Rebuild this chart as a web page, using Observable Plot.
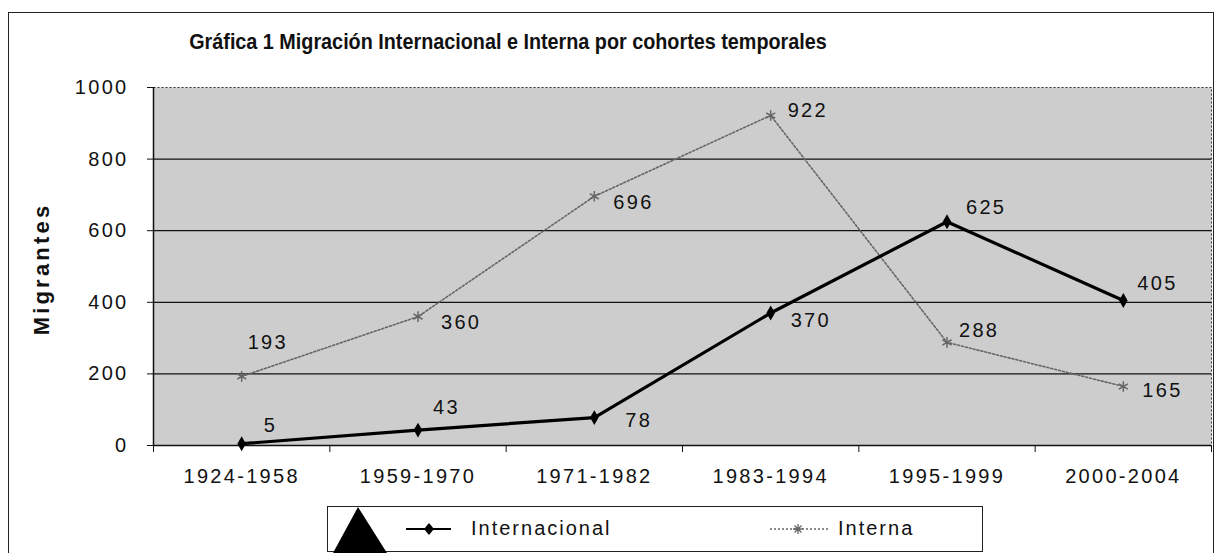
<!DOCTYPE html>
<html><head><meta charset="utf-8">
<script src="https://cdn.jsdelivr.net/npm/d3@7"></script>
<script src="https://cdn.jsdelivr.net/npm/@observablehq/plot@0.6"></script>
<style>
  body { margin:0; background:#fff; font-family:"Liberation Sans", Arial, sans-serif; }
  #wrap { position:relative; width:1218px; height:553px; overflow:hidden; }
  #frame { position:absolute; left:8px; top:12px; width:1206px; height:600px; border:1.5px solid #222; box-sizing:border-box; }
  #title { position:absolute; left:0; width:1016px; top:30px; text-align:center; font-weight:bold; font-size:19.8px; letter-spacing:0px; color:#111; transform:scaleY(1.12); }
  #ylab { position:absolute; left:42px; top:269px; transform:translate(-50%,-50%) rotate(-90deg); font-weight:bold; font-size:22px; letter-spacing:3.2px; color:#111; white-space:nowrap; }
  #plot { position:absolute; left:0; top:0; }
  #plot svg text { letter-spacing:2.3px; }
  #legend { position:absolute; left:327px; top:506px; width:656px; height:46px; border:1.5px solid #222; box-sizing:border-box; background:#fff; }
  .item { position:absolute; top:0; height:43px; display:flex; align-items:center; font-size:20px; letter-spacing:2px; color:#111; }
  #tri { position:absolute; left:0; top:0; }
</style></head>
<body>
<div id="wrap">
  <div id="frame"></div>
  <div id="plot"></div>
  <div id="title"></div>
  <div id="ylab"></div>
  <div id="legend"></div>
  <svg id="tri" width="1218" height="553"><polygon id="triPoly" fill="#000"></polygon></svg>
</div>
<script>
const categories = ["1924-1958","1959-1970","1971-1982","1983-1994","1995-1999","2000-2004"];
const internacional = [5, 43, 78, 370, 625, 405];
const interna = [193, 360, 696, 922, 288, 165];
const yTicks = [0, 200, 400, 600, 800, 1000];
const gridValues = [200, 400, 600, 800];
const seriesNames = ["Internacional", "Interna"];
const titleText = "Gráfica 1 Migración Internacional e Interna por cohortes temporales";
const yLabel = "Migrantes";

// label offsets (style)
const offInternacional = [[22,-18],[15,-23],[31,3],[20,8],[19,-14],[14,-17]];
const offInterna = [[6,-34],[23,6],[19,6],[17,-5],[12,-12],[19,4]];

const idx = categories.map((c,i)=>i);
const dInt = idx.map(i=>({i, v: internacional[i]}));
const dIna = idx.map(i=>({i, v: interna[i]}));
const bounds = [-0.5, ...idx.map(i=>i+0.5)];

const textMarks = [];
dInt.forEach((d,k)=>textMarks.push(Plot.text([d], {x:"i", y:"v", text:d=>String(d.v), textAnchor:"start", dx:offInternacional[k][0], dy:offInternacional[k][1], fontSize:20, fill:"#111"})));
dIna.forEach((d,k)=>textMarks.push(Plot.text([d], {x:"i", y:"v", text:d=>String(d.v), textAnchor:"start", dx:offInterna[k][0], dy:offInterna[k][1], fontSize:20, fill:"#111"})));

const chart = Plot.plot({
  width:1218, height:553,
  marginLeft:153, marginRight:7, marginTop:87, marginBottom:108,
  style:{fontFamily:"'Liberation Sans', Arial, sans-serif", fontSize:"20px", color:"#111", background:"transparent"},
  x:{type:"linear", domain:[-0.5, categories.length-0.5], label:null},
  y:{domain:[0,1000], label:null},
  marks:[
    Plot.frame({fill:"url(#dots)", stroke:null}),
    Plot.frame({stroke:"#333", strokeDasharray:"2,2", strokeWidth:1}),
    Plot.ruleY(gridValues, {stroke:"#111", strokeWidth:1.2}),
    Plot.axisY(yTicks, {tickSize:6, tickPadding:19, fontSize:20, stroke:"#111", label:null, tickFormat:d=>String(d)}),
    Plot.axisX(bounds, {tickSize:7, tickFormat:()=>"", stroke:"#111", label:null}),
    Plot.axisX(idx, {tickSize:0, tickPadding:23, tickFormat:i=>categories[i], fontSize:20, label:null}),
    Plot.ruleY([0], {stroke:"#111", strokeWidth:1.5}),
    Plot.ruleX([-0.5], {stroke:"#111", strokeWidth:1.5}),
    Plot.line(dIna, {x:"i", y:"v", stroke:"#666", strokeWidth:1.6, strokeDasharray:"2,2"}),
    Plot.dot(dIna, {x:"i", y:"v", symbol:"asterisk", r:5, stroke:"#666", strokeWidth:1.5}),
    Plot.line(dInt, {x:"i", y:"v", stroke:"#000", strokeWidth:3.2}),
    Plot.dot(dInt, {x:"i", y:"v", symbol:"diamond", r:4.5, fill:"#000"}),
    ...textMarks
  ]
});
const ns = "http://www.w3.org/2000/svg";
const defs = document.createElementNS(ns, "defs");
defs.innerHTML = '<pattern id="dots" patternUnits="userSpaceOnUse" width="2" height="2"><rect width="2" height="2" fill="#fff"/><rect x="0" y="0" width="1" height="1" fill="#7a7a7a"/><rect x="1" y="1" width="1" height="1" fill="#bdbdbd"/></pattern>';
chart.insertBefore(defs, chart.firstChild);
document.getElementById("plot").appendChild(chart);

document.getElementById("title").textContent = titleText;
document.getElementById("ylab").textContent = yLabel;
document.getElementById("triPoly").setAttribute("points", "358,507 333,553 387,553");

// legend
const leg = document.getElementById("legend");
function item(left, name, svgInner){
  const d = document.createElement("div");
  d.className = "item"; d.style.left = left + "px";
  d.innerHTML = '<svg width="64" height="20" style="margin-right:6px">' + svgInner + '</svg><span>' + name + '</span>';
  leg.appendChild(d);
}
item(73, seriesNames[0], '<line x1="5" y1="10" x2="50" y2="10" stroke="#000" stroke-width="2"/><path d="M28 4 L33 10 L28 16 L23 10Z" fill="#000"/>');
item(440, seriesNames[1], '<line x1="2" y1="10" x2="62" y2="10" stroke="#666" stroke-width="1.5" stroke-dasharray="2,2"/><path d="M30 5 L30 15 M25 10 L35 10 M26.5 6.5 L33.5 13.5 M33.5 6.5 L26.5 13.5" stroke="#666" stroke-width="1.3"/>');
</script>
</body></html>
